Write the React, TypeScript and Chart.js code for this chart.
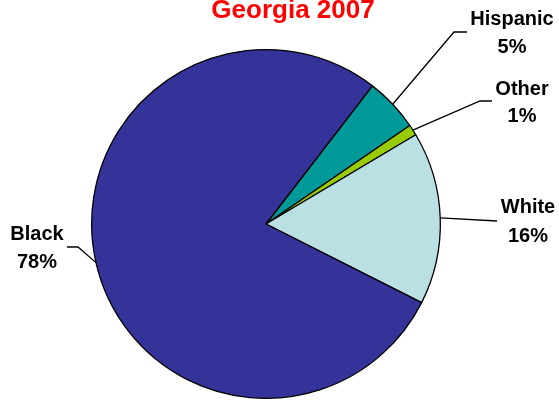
import React, { useEffect, useRef } from "react";
import { Chart, registerables } from "chart.js";

Chart.register(...registerables);

const categories = ["Hispanic", "Other", "White", "Black"];
const percents = [5, 1, 16, 78];
const sliceColors = ["#009999", "#99CC00", "#BBE0E3", "#333399"];
const chartTitle = "Georgia 2007";

// label layout: elbow points and text anchors (layout only)
const labelLayout = [
  { elbow: [454, 32], end: [467, 32], tx: 512, ty: [25, 53] },
  { elbow: [480, 101], end: [492, 101], tx: 522, ty: [95, 122] },
  { elbow: null, end: [497, 221], tx: 528, ty: [213, 242] },
  { elbow: [78, 247], end: [67, 247], tx: 37, ty: [240, 268] },
];

const FONT = "Liberation Sans, Arial, Helvetica, sans-serif";

const labelPlugin = {
  id: "pieLabels",
  afterDraw(chart: any) {
    const ctx = chart.ctx;
    const meta = chart.getDatasetMeta(0);
    ctx.save();
    // title
    ctx.fillStyle = "#FF0000";
    ctx.font = `bold 26px ${FONT}`;
    ctx.textAlign = "center";
    ctx.textBaseline = "alphabetic";
    ctx.fillText(chartTitle, 293, 18);

    meta.data.forEach((arc: any, i: number) => {
      const lay = labelLayout[i];
      const mid = (arc.startAngle + arc.endAngle) / 2;
      const ax = arc.x + Math.cos(mid) * arc.outerRadius;
      const ay = arc.y + Math.sin(mid) * arc.outerRadius;
      ctx.strokeStyle = "#000";
      ctx.lineWidth = 1.3;
      ctx.beginPath();
      ctx.moveTo(ax, ay);
      if (lay.elbow) ctx.lineTo(lay.elbow[0], lay.elbow[1]);
      ctx.lineTo(lay.end[0], lay.end[1]);
      ctx.stroke();

      ctx.fillStyle = "#000";
      ctx.font = `bold 20px ${FONT}`;
      ctx.textAlign = "center";
      ctx.fillText(categories[i], lay.tx, lay.ty[0]);
      ctx.fillText(`${percents[i]}%`, lay.tx, lay.ty[1]);
    });
    ctx.restore();
  },
};

export default function App() {
  const ref = useRef<HTMLCanvasElement>(null);
  useEffect(() => {
    document.body.style.margin = "0";
    const chart = new Chart(ref.current!, {
      type: "pie",
      data: {
        labels: categories,
        datasets: [
          {
            data: percents,
            backgroundColor: sliceColors,
            borderColor: "#000000",
            borderWidth: 1.3,
          },
        ],
      },
      options: {
        animation: false,
        responsive: false,
        rotation: 37.6,
        layout: { padding: { left: 91, right: 118, top: 49, bottom: 1 } },
        plugins: {
          legend: { display: false },
          tooltip: { enabled: false },
          title: { display: false },
        },
      },
      plugins: [labelPlugin],
    });
    return () => chart.destroy();
  }, []);
  return (
    <div style={{ position: "absolute", left: 0, top: 0, width: 559, height: 400, background: "#fff" }}>
      <canvas ref={ref} width={559} height={400} />
    </div>
  );
}
